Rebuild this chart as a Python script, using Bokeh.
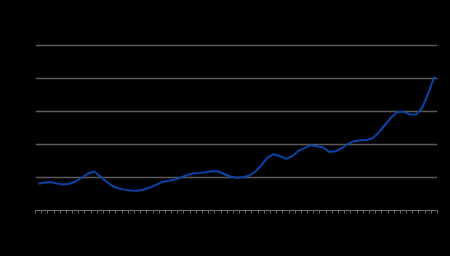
from bokeh.plotting import figure
from bokeh.models import FixedTicker
from bokeh.embed import file_html
from bokeh.resources import INLINE

# quarterly index values (65 periods)
values = [16.2, 17.0, 17.2, 16.4, 15.8, 16.2, 17.6, 20.0, 22.4, 23.6,
          20.6, 17.4, 14.7, 13.3, 12.5, 12.1, 11.9, 12.7, 13.9, 15.5,
          17.3, 18.0, 18.7, 20.0, 21.5, 22.5, 22.8, 23.2, 23.8, 23.8,
          22.1, 20.6, 19.9, 20.1, 21.1, 23.5, 27.3, 32.1, 34.1, 33.0,
          31.3, 32.9, 36.1, 37.8, 39.6, 39.0, 38.2, 35.5, 35.9, 37.6,
          40.3, 42.0, 42.5, 42.7, 43.8, 47.3, 51.8, 56.4, 59.7, 59.9,
          58.2, 58.1, 62.1, 70.9, 81.2]
periods = list(range(len(values)))
y_ticks = [0, 20, 40, 60, 80, 100]

xs = [i + 0.5 for i in periods]

p = figure(width=450, height=256, output_backend="svg", toolbar_location=None,
           x_range=(0, len(values)), y_range=(0, 101.8),
           min_border_left=35, min_border_right=13,
           min_border_top=42, min_border_bottom=46)
p.background_fill_color = "black"
p.border_fill_color = "black"
p.outline_line_color = None

p.line(xs, values, line_color="#0a44a8", line_width=2.0)

p.xgrid.visible = False
p.ygrid.grid_line_color = "#5a5a5a"
p.ygrid.grid_line_width = 1.3
p.yaxis.ticker = FixedTicker(ticks=y_ticks)
p.yaxis.visible = False

p.xaxis.ticker = FixedTicker(ticks=list(range(len(values) + 1)))
p.xaxis.axis_line_color = "#6a6a6a"
p.xaxis.axis_line_width = 1.2
p.xaxis.major_tick_line_color = "#6a6a6a"
p.xaxis.major_tick_out = 3
p.xaxis.major_tick_in = 0
p.xaxis.minor_tick_line_color = None
p.xaxis.major_label_text_color = None
p.xaxis.major_label_text_font_size = "1px"

html = file_html(p, INLINE)
html = html.replace("</head>", "<style>html,body{margin:0;padding:0;background:#000;}</style></head>", 1)
open("out.html", "w").write(html)
